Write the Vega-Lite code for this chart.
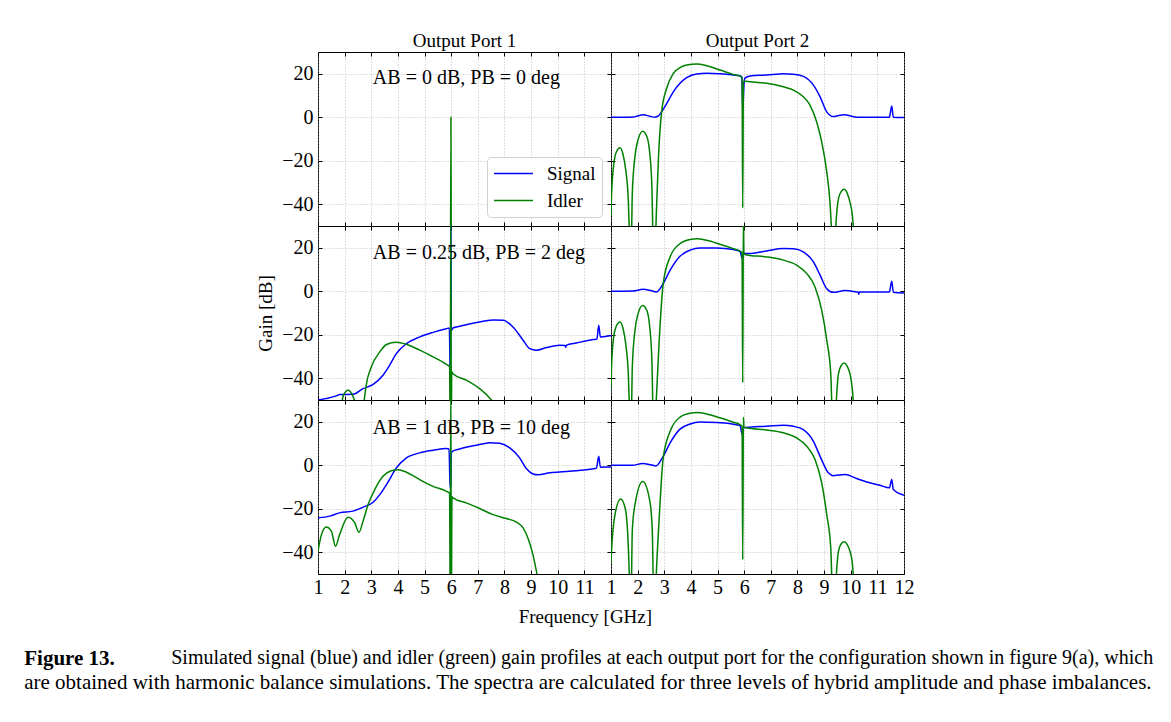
{
 "$schema": "https://vega.github.io/schema/vega-lite/v6.json",
 "padding": {"left": 24, "top": 31, "right": 10, "bottom": 10},
 "background": "white",
 "config": {
  "font": "Liberation Serif",
  "view": {"stroke": "#000", "strokeWidth": 1},
  "line": {"interpolate": "monotone", "strokeWidth": 1.5},
  "axis": {"domain": false, "ticks": true, "tickSize": -4, "tickColor": "#000", "tickWidth": 1, "gridColor": "#b0b0b0", "gridDash": [1, 2], "gridWidth": 0.8, "labelFont": "Liberation Serif", "labelFontSize": 20, "labelColor": "#000", "labelFlush": false, "labelOverlap": false, "titleFont": "Liberation Serif", "titleFontSize": 19, "titleFontWeight": "normal", "titleColor": "#000"},
  "title": {"font": "Liberation Serif", "fontSize": 19, "fontWeight": "normal", "color": "#000"}
 },
 "datasets": {
  "r1p1": [
   {"series": "Idler", "f": 5.975, "g": -70}, {"series": "Idler", "f": 5.99, "g": 0}, {"series": "Idler", "f": 6.005, "g": -70}
  ],
  "r1p2": [
   {"series": "Signal", "f": 1, "g": 0}, {"series": "Signal", "f": 1.5, "g": 0}, {"series": "Signal", "f": 1.84, "g": 0.1}, {"series": "Signal", "f": 2.0, "g": 0.6}, {"series": "Signal", "f": 2.21, "g": 1.1}, {"series": "Signal", "f": 2.45, "g": 0.5}, {"series": "Signal", "f": 2.65, "g": 0}, {"series": "Signal", "f": 2.78, "g": 0.6}, {"series": "Signal", "f": 2.9, "g": 2.5}, {"series": "Signal", "f": 3.09, "g": 6.3}, {"series": "Signal", "f": 3.34, "g": 11.7}, {"series": "Signal", "f": 3.59, "g": 15.6}, {"series": "Signal", "f": 3.84, "g": 18.2}, {"series": "Signal", "f": 4.22, "g": 19.9}, {"series": "Signal", "f": 4.59, "g": 20.2}, {"series": "Signal", "f": 5.09, "g": 20}, {"series": "Signal", "f": 5.59, "g": 19.4}, {"series": "Signal", "f": 5.84, "g": 19.1}, {"series": "Signal", "f": 5.91, "g": 18.6}, {"series": "Signal", "f": 5.95, "g": 3.3}, {"series": "Signal", "f": 5.98, "g": 12}, {"series": "Signal", "f": 6.02, "g": 17.9}, {"series": "Signal", "f": 6.22, "g": 19}, {"series": "Signal", "f": 6.84, "g": 19.4}, {"series": "Signal", "f": 7.47, "g": 20}, {"series": "Signal", "f": 7.85, "g": 19.8}, {"series": "Signal", "f": 8.22, "g": 18.8}, {"series": "Signal", "f": 8.6, "g": 14.8}, {"series": "Signal", "f": 8.85, "g": 9.4}, {"series": "Signal", "f": 9.1, "g": 2.5}, {"series": "Signal", "f": 9.35, "g": 0.3}, {"series": "Signal", "f": 9.55, "g": 0.8}, {"series": "Signal", "f": 9.79, "g": 1.1}, {"series": "Signal", "f": 10.0, "g": 0.6}, {"series": "Signal", "f": 10.22, "g": 0}, {"series": "Signal", "f": 11.45, "g": 0}, {"series": "Signal", "f": 11.54, "g": 5.2}, {"series": "Signal", "f": 11.6, "g": 0}, {"series": "Signal", "f": 12, "g": -0.1},
   {"series": "Idler", "f": 1, "g": -45}, {"series": "Idler", "f": 1.02, "g": -36}, {"series": "Idler", "f": 1.1, "g": -22}, {"series": "Idler", "f": 1.2, "g": -16}, {"series": "Idler", "f": 1.34, "g": -14}, {"series": "Idler", "f": 1.45, "g": -17}, {"series": "Idler", "f": 1.55, "g": -24}, {"series": "Idler", "f": 1.65, "g": -38}, {"series": "Idler", "f": 1.71, "g": -60}, {"series": "Idler", "f": 1.74, "g": -75}, {"series": "Idler", "f": 1.8, "g": -35}, {"series": "Idler", "f": 1.9, "g": -18}, {"series": "Idler", "f": 2.0, "g": -11}, {"series": "Idler", "f": 2.19, "g": -6.4}, {"series": "Idler", "f": 2.35, "g": -9}, {"series": "Idler", "f": 2.45, "g": -16}, {"series": "Idler", "f": 2.53, "g": -30}, {"series": "Idler", "f": 2.62, "g": -75}, {"series": "Idler", "f": 2.7, "g": -45}, {"series": "Idler", "f": 2.78, "g": -19}, {"series": "Idler", "f": 2.9, "g": 2.5}, {"series": "Idler", "f": 3.09, "g": 13.3}, {"series": "Idler", "f": 3.34, "g": 20.2}, {"series": "Idler", "f": 3.59, "g": 22.8}, {"series": "Idler", "f": 3.84, "g": 24}, {"series": "Idler", "f": 4.22, "g": 24.5}, {"series": "Idler", "f": 4.59, "g": 23.7}, {"series": "Idler", "f": 5.09, "g": 21.7}, {"series": "Idler", "f": 5.59, "g": 19.7}, {"series": "Idler", "f": 5.84, "g": 18.9}, {"series": "Idler", "f": 5.92, "g": 18.2}, {"series": "Idler", "f": 5.945, "g": -41.7}, {"series": "Idler", "f": 5.97, "g": 16.6}, {"series": "Idler", "f": 6.04, "g": 16.6}, {"series": "Idler", "f": 6.22, "g": 16.3}, {"series": "Idler", "f": 6.84, "g": 15.6}, {"series": "Idler", "f": 7.47, "g": 14}, {"series": "Idler", "f": 7.85, "g": 12.5}, {"series": "Idler", "f": 8.22, "g": 9.4}, {"series": "Idler", "f": 8.47, "g": 5.6}, {"series": "Idler", "f": 8.72, "g": -2.1}, {"series": "Idler", "f": 8.91, "g": -11.3}, {"series": "Idler", "f": 9.1, "g": -25.1}, {"series": "Idler", "f": 9.22, "g": -39}, {"series": "Idler", "f": 9.31, "g": -60}, {"series": "Idler", "f": 9.36, "g": -75}, {"series": "Idler", "f": 9.42, "g": -55}, {"series": "Idler", "f": 9.54, "g": -37.4}, {"series": "Idler", "f": 9.65, "g": -34}, {"series": "Idler", "f": 9.76, "g": -33.1}, {"series": "Idler", "f": 9.87, "g": -35}, {"series": "Idler", "f": 9.97, "g": -39}, {"series": "Idler", "f": 10.06, "g": -45}, {"series": "Idler", "f": 10.12, "g": -55}, {"series": "Idler", "f": 10.2, "g": -75}
  ],
  "r2p1": [
   {"series": "Signal", "f": 1, "g": -50}, {"series": "Signal", "f": 1.31, "g": -49.3}, {"series": "Signal", "f": 1.69, "g": -48.1}, {"series": "Signal", "f": 1.81, "g": -47.5}, {"series": "Signal", "f": 2.31, "g": -47.4}, {"series": "Signal", "f": 2.69, "g": -44.8}, {"series": "Signal", "f": 3.07, "g": -42.8}, {"series": "Signal", "f": 3.44, "g": -38.6}, {"series": "Signal", "f": 3.69, "g": -34}, {"series": "Signal", "f": 3.94, "g": -28.7}, {"series": "Signal", "f": 4.32, "g": -24.1}, {"series": "Signal", "f": 4.82, "g": -21}, {"series": "Signal", "f": 5.32, "g": -18.9}, {"series": "Signal", "f": 5.82, "g": -17.2}, {"series": "Signal", "f": 5.93, "g": -16.9}, {"series": "Signal", "f": 5.96, "g": -36}, {"series": "Signal", "f": 5.98, "g": -40}, {"series": "Signal", "f": 5.99, "g": 35}, {"series": "Signal", "f": 6.005, "g": -18}, {"series": "Signal", "f": 6.07, "g": -16.9}, {"series": "Signal", "f": 6.32, "g": -16.1}, {"series": "Signal", "f": 6.95, "g": -14.4}, {"series": "Signal", "f": 7.57, "g": -13.2}, {"series": "Signal", "f": 7.95, "g": -13.3}, {"series": "Signal", "f": 8.32, "g": -16.4}, {"series": "Signal", "f": 8.7, "g": -22.5}, {"series": "Signal", "f": 8.95, "g": -26.4}, {"series": "Signal", "f": 9.2, "g": -27.1}, {"series": "Signal", "f": 9.57, "g": -25.9}, {"series": "Signal", "f": 10.07, "g": -24.8}, {"series": "Signal", "f": 10.28, "g": -24.9}, {"series": "Signal", "f": 10.3, "g": -25.8}, {"series": "Signal", "f": 10.32, "g": -24.9}, {"series": "Signal", "f": 10.7, "g": -23.8}, {"series": "Signal", "f": 11.33, "g": -22.2}, {"series": "Signal", "f": 11.47, "g": -22}, {"series": "Signal", "f": 11.54, "g": -15.6}, {"series": "Signal", "f": 11.6, "g": -21}, {"series": "Signal", "f": 11.95, "g": -20.5}, {"series": "Signal", "f": 12, "g": -20.4},
   {"series": "Idler", "f": 1.85, "g": -55}, {"series": "Idler", "f": 1.95, "g": -48}, {"series": "Idler", "f": 2.13, "g": -45.5}, {"series": "Idler", "f": 2.3, "g": -48}, {"series": "Idler", "f": 2.44, "g": -55}, {"series": "Idler", "f": 2.55, "g": -75}, {"series": "Idler", "f": 2.69, "g": -55}, {"series": "Idler", "f": 2.82, "g": -42.5}, {"series": "Idler", "f": 3.0, "g": -34.8}, {"series": "Idler", "f": 3.32, "g": -27.9}, {"series": "Idler", "f": 3.57, "g": -24.5}, {"series": "Idler", "f": 3.94, "g": -23.4}, {"series": "Idler", "f": 4.32, "g": -24.4}, {"series": "Idler", "f": 4.82, "g": -27.1}, {"series": "Idler", "f": 5.32, "g": -30.2}, {"series": "Idler", "f": 5.82, "g": -33.6}, {"series": "Idler", "f": 5.94, "g": -34.8}, {"series": "Idler", "f": 5.965, "g": -70}, {"series": "Idler", "f": 5.985, "g": 40}, {"series": "Idler", "f": 6.005, "g": -70}, {"series": "Idler", "f": 6.02, "g": -37}, {"series": "Idler", "f": 6.07, "g": -37.9}, {"series": "Idler", "f": 6.57, "g": -40.9}, {"series": "Idler", "f": 7.07, "g": -44.8}, {"series": "Idler", "f": 7.51, "g": -50}, {"series": "Idler", "f": 7.8, "g": -55}
  ],
  "r2p2": [
   {"series": "Signal", "f": 1, "g": 0}, {"series": "Signal", "f": 1.8, "g": 0.1}, {"series": "Signal", "f": 2.21, "g": 0.9}, {"series": "Signal", "f": 2.5, "g": 0.3}, {"series": "Signal", "f": 2.71, "g": -0.3}, {"series": "Signal", "f": 2.96, "g": 3.5}, {"series": "Signal", "f": 3.22, "g": 9.7}, {"series": "Signal", "f": 3.59, "g": 16.1}, {"series": "Signal", "f": 3.97, "g": 18.9}, {"series": "Signal", "f": 4.34, "g": 19.9}, {"series": "Signal", "f": 4.97, "g": 19.9}, {"series": "Signal", "f": 5.59, "g": 19.2}, {"series": "Signal", "f": 5.84, "g": 18.4}, {"series": "Signal", "f": 5.93, "g": 15}, {"series": "Signal", "f": 5.97, "g": 17.5}, {"series": "Signal", "f": 6.16, "g": 17.3}, {"series": "Signal", "f": 6.84, "g": 18.5}, {"series": "Signal", "f": 7.47, "g": 19.6}, {"series": "Signal", "f": 7.85, "g": 19.5}, {"series": "Signal", "f": 8.22, "g": 18.1}, {"series": "Signal", "f": 8.6, "g": 13.5}, {"series": "Signal", "f": 8.85, "g": 7.4}, {"series": "Signal", "f": 9.1, "g": 1.2}, {"series": "Signal", "f": 9.35, "g": -0.5}, {"series": "Signal", "f": 9.79, "g": 0.3}, {"series": "Signal", "f": 10.22, "g": -0.3}, {"series": "Signal", "f": 10.28, "g": -0.4}, {"series": "Signal", "f": 10.3, "g": -1.4}, {"series": "Signal", "f": 10.32, "g": -0.3}, {"series": "Signal", "f": 11.45, "g": -0.3}, {"series": "Signal", "f": 11.54, "g": 4.6}, {"series": "Signal", "f": 11.6, "g": -0.5}, {"series": "Signal", "f": 12, "g": -0.8},
   {"series": "Idler", "f": 1, "g": -45}, {"series": "Idler", "f": 1.02, "g": -34.8}, {"series": "Idler", "f": 1.1, "g": -21}, {"series": "Idler", "f": 1.2, "g": -16}, {"series": "Idler", "f": 1.34, "g": -14.1}, {"series": "Idler", "f": 1.45, "g": -17}, {"series": "Idler", "f": 1.55, "g": -24}, {"series": "Idler", "f": 1.65, "g": -38}, {"series": "Idler", "f": 1.71, "g": -60}, {"series": "Idler", "f": 1.74, "g": -75}, {"series": "Idler", "f": 1.8, "g": -35}, {"series": "Idler", "f": 1.9, "g": -18}, {"series": "Idler", "f": 2.0, "g": -11}, {"series": "Idler", "f": 2.19, "g": -6.6}, {"series": "Idler", "f": 2.35, "g": -9}, {"series": "Idler", "f": 2.45, "g": -16}, {"series": "Idler", "f": 2.53, "g": -30}, {"series": "Idler", "f": 2.62, "g": -75}, {"series": "Idler", "f": 2.7, "g": -50}, {"series": "Idler", "f": 2.81, "g": -22.5}, {"series": "Idler", "f": 2.96, "g": 3.5}, {"series": "Idler", "f": 3.22, "g": 15.8}, {"series": "Idler", "f": 3.59, "g": 21.9}, {"series": "Idler", "f": 3.97, "g": 23.8}, {"series": "Idler", "f": 4.22, "g": 24.1}, {"series": "Idler", "f": 4.59, "g": 23.4}, {"series": "Idler", "f": 5.09, "g": 21.6}, {"series": "Idler", "f": 5.59, "g": 19.6}, {"series": "Idler", "f": 5.84, "g": 18.5}, {"series": "Idler", "f": 5.92, "g": 17.8}, {"series": "Idler", "f": 5.945, "g": -42}, {"series": "Idler", "f": 5.97, "g": 35}, {"series": "Idler", "f": 5.99, "g": 17.2}, {"series": "Idler", "f": 6.09, "g": 16.7}, {"series": "Idler", "f": 6.84, "g": 15.8}, {"series": "Idler", "f": 7.47, "g": 14.3}, {"series": "Idler", "f": 7.97, "g": 12}, {"series": "Idler", "f": 8.35, "g": 8.1}, {"series": "Idler", "f": 8.66, "g": 2}, {"series": "Idler", "f": 8.91, "g": -8.7}, {"series": "Idler", "f": 9.1, "g": -22.5}, {"series": "Idler", "f": 9.25, "g": -37.9}, {"series": "Idler", "f": 9.31, "g": -60}, {"series": "Idler", "f": 9.37, "g": -75}, {"series": "Idler", "f": 9.44, "g": -55}, {"series": "Idler", "f": 9.54, "g": -37.9}, {"series": "Idler", "f": 9.65, "g": -34}, {"series": "Idler", "f": 9.76, "g": -33}, {"series": "Idler", "f": 9.87, "g": -34.5}, {"series": "Idler", "f": 9.97, "g": -37.9}, {"series": "Idler", "f": 10.06, "g": -45}, {"series": "Idler", "f": 10.12, "g": -55}, {"series": "Idler", "f": 10.2, "g": -75}
  ],
  "r3p1": [
   {"series": "Signal", "f": 1, "g": -24.2}, {"series": "Signal", "f": 1.44, "g": -23.4}, {"series": "Signal", "f": 1.81, "g": -21.9}, {"series": "Signal", "f": 2.31, "g": -21.1}, {"series": "Signal", "f": 2.69, "g": -19.3}, {"series": "Signal", "f": 3.07, "g": -17}, {"series": "Signal", "f": 3.32, "g": -13.5}, {"series": "Signal", "f": 3.63, "g": -7.7}, {"series": "Signal", "f": 3.94, "g": -1.2}, {"series": "Signal", "f": 4.32, "g": 3.4}, {"series": "Signal", "f": 4.82, "g": 5.7}, {"series": "Signal", "f": 5.32, "g": 6.9}, {"series": "Signal", "f": 5.82, "g": 7.7}, {"series": "Signal", "f": 5.92, "g": 7.5}, {"series": "Signal", "f": 5.96, "g": -10.4}, {"series": "Signal", "f": 5.98, "g": -10}, {"series": "Signal", "f": 6.0, "g": 5}, {"series": "Signal", "f": 6.04, "g": 6.4}, {"series": "Signal", "f": 6.32, "g": 7.5}, {"series": "Signal", "f": 6.95, "g": 9.2}, {"series": "Signal", "f": 7.45, "g": 10.4}, {"series": "Signal", "f": 7.82, "g": 10.1}, {"series": "Signal", "f": 8.2, "g": 8}, {"series": "Signal", "f": 8.57, "g": 3.4}, {"series": "Signal", "f": 8.82, "g": -1.5}, {"series": "Signal", "f": 9.07, "g": -4}, {"series": "Signal", "f": 9.26, "g": -4.4}, {"series": "Signal", "f": 9.7, "g": -3.5}, {"series": "Signal", "f": 10.07, "g": -3.1}, {"series": "Signal", "f": 10.7, "g": -2.5}, {"series": "Signal", "f": 11.45, "g": -1.4}, {"series": "Signal", "f": 11.54, "g": 4.1}, {"series": "Signal", "f": 11.6, "g": -0.9}, {"series": "Signal", "f": 11.95, "g": -0.8}, {"series": "Signal", "f": 12, "g": -0.8},
   {"series": "Idler", "f": 1, "g": -39.5}, {"series": "Idler", "f": 1.13, "g": -31.9}, {"series": "Idler", "f": 1.31, "g": -28.4}, {"series": "Idler", "f": 1.5, "g": -30.3}, {"series": "Idler", "f": 1.66, "g": -37.2}, {"series": "Idler", "f": 1.81, "g": -31.9}, {"series": "Idler", "f": 2.13, "g": -23.9}, {"series": "Idler", "f": 2.38, "g": -26.5}, {"series": "Idler", "f": 2.54, "g": -30.8}, {"series": "Idler", "f": 2.69, "g": -25.7}, {"series": "Idler", "f": 2.88, "g": -18.1}, {"series": "Idler", "f": 3.13, "g": -11.2}, {"series": "Idler", "f": 3.44, "g": -5.1}, {"series": "Idler", "f": 3.75, "g": -2.5}, {"series": "Idler", "f": 4.0, "g": -2.1}, {"series": "Idler", "f": 4.32, "g": -3.2}, {"series": "Idler", "f": 4.82, "g": -6.6}, {"series": "Idler", "f": 5.32, "g": -9.7}, {"series": "Idler", "f": 5.82, "g": -12}, {"series": "Idler", "f": 5.94, "g": -12.9}, {"series": "Idler", "f": 5.965, "g": -70}, {"series": "Idler", "f": 5.985, "g": 40}, {"series": "Idler", "f": 6.005, "g": -70}, {"series": "Idler", "f": 6.03, "g": -14.5}, {"series": "Idler", "f": 6.07, "g": -15}, {"series": "Idler", "f": 6.57, "g": -17.3}, {"series": "Idler", "f": 7.07, "g": -19.9}, {"series": "Idler", "f": 7.57, "g": -22.7}, {"series": "Idler", "f": 8.07, "g": -24.5}, {"series": "Idler", "f": 8.45, "g": -26.1}, {"series": "Idler", "f": 8.7, "g": -28.8}, {"series": "Idler", "f": 8.88, "g": -33.4}, {"series": "Idler", "f": 9.07, "g": -41.1}, {"series": "Idler", "f": 9.2, "g": -48.7}, {"series": "Idler", "f": 9.3, "g": -55}
  ],
  "r3p2": [
   {"series": "Signal", "f": 1, "g": 0}, {"series": "Signal", "f": 1.8, "g": 0}, {"series": "Signal", "f": 2.19, "g": 0.8}, {"series": "Signal", "f": 2.5, "g": 0.2}, {"series": "Signal", "f": 2.69, "g": -0.3}, {"series": "Signal", "f": 2.96, "g": 4.1}, {"series": "Signal", "f": 3.22, "g": 10.3}, {"series": "Signal", "f": 3.59, "g": 16.6}, {"series": "Signal", "f": 3.97, "g": 19}, {"series": "Signal", "f": 4.34, "g": 19.9}, {"series": "Signal", "f": 4.97, "g": 19.6}, {"series": "Signal", "f": 5.59, "g": 18.9}, {"series": "Signal", "f": 5.84, "g": 18.2}, {"series": "Signal", "f": 5.93, "g": 14.1}, {"series": "Signal", "f": 5.97, "g": 17.2}, {"series": "Signal", "f": 6.22, "g": 17.5}, {"series": "Signal", "f": 6.84, "g": 17.9}, {"series": "Signal", "f": 7.47, "g": 18.4}, {"series": "Signal", "f": 7.85, "g": 17.9}, {"series": "Signal", "f": 8.22, "g": 16.4}, {"series": "Signal", "f": 8.6, "g": 11}, {"series": "Signal", "f": 8.85, "g": 4.1}, {"series": "Signal", "f": 9.16, "g": -3.5}, {"series": "Signal", "f": 9.35, "g": -4.8}, {"series": "Signal", "f": 9.55, "g": -4.5}, {"series": "Signal", "f": 9.79, "g": -4.3}, {"series": "Signal", "f": 10.22, "g": -6.1}, {"series": "Signal", "f": 10.6, "g": -7.7}, {"series": "Signal", "f": 11.1, "g": -9.2}, {"series": "Signal", "f": 11.45, "g": -10.4}, {"series": "Signal", "f": 11.54, "g": -6.6}, {"series": "Signal", "f": 11.6, "g": -11.2}, {"series": "Signal", "f": 12, "g": -13.8},
   {"series": "Idler", "f": 1, "g": -45}, {"series": "Idler", "f": 1.02, "g": -39.5}, {"series": "Idler", "f": 1.15, "g": -22.7}, {"series": "Idler", "f": 1.36, "g": -15.5}, {"series": "Idler", "f": 1.53, "g": -19.6}, {"series": "Idler", "f": 1.63, "g": -32}, {"series": "Idler", "f": 1.71, "g": -60}, {"series": "Idler", "f": 1.74, "g": -75}, {"series": "Idler", "f": 1.8, "g": -30}, {"series": "Idler", "f": 1.9, "g": -18.1}, {"series": "Idler", "f": 2.19, "g": -7.5}, {"series": "Idler", "f": 2.46, "g": -16.6}, {"series": "Idler", "f": 2.55, "g": -30}, {"series": "Idler", "f": 2.62, "g": -75}, {"series": "Idler", "f": 2.7, "g": -50}, {"series": "Idler", "f": 2.81, "g": -24.2}, {"series": "Idler", "f": 2.96, "g": 3.4}, {"series": "Idler", "f": 3.22, "g": 15.6}, {"series": "Idler", "f": 3.59, "g": 22.1}, {"series": "Idler", "f": 3.97, "g": 23.9}, {"series": "Idler", "f": 4.22, "g": 24.2}, {"series": "Idler", "f": 4.59, "g": 23.6}, {"series": "Idler", "f": 5.09, "g": 21.8}, {"series": "Idler", "f": 5.59, "g": 19.8}, {"series": "Idler", "f": 5.84, "g": 18.7}, {"series": "Idler", "f": 5.92, "g": 17.9}, {"series": "Idler", "f": 5.945, "g": -43.4}, {"series": "Idler", "f": 5.97, "g": 22.1}, {"series": "Idler", "f": 5.99, "g": 17.5}, {"series": "Idler", "f": 6.09, "g": 17.2}, {"series": "Idler", "f": 6.84, "g": 16.2}, {"series": "Idler", "f": 7.47, "g": 14.9}, {"series": "Idler", "f": 7.97, "g": 12.6}, {"series": "Idler", "f": 8.35, "g": 8.7}, {"series": "Idler", "f": 8.66, "g": 2.6}, {"series": "Idler", "f": 8.91, "g": -8.1}, {"series": "Idler", "f": 9.1, "g": -22.7}, {"series": "Idler", "f": 9.25, "g": -38}, {"series": "Idler", "f": 9.31, "g": -60}, {"series": "Idler", "f": 9.37, "g": -75}, {"series": "Idler", "f": 9.44, "g": -55}, {"series": "Idler", "f": 9.54, "g": -39.5}, {"series": "Idler", "f": 9.65, "g": -36}, {"series": "Idler", "f": 9.76, "g": -35.2}, {"series": "Idler", "f": 9.87, "g": -36.5}, {"series": "Idler", "f": 9.97, "g": -39.5}, {"series": "Idler", "f": 10.06, "g": -45}, {"series": "Idler", "f": 10.12, "g": -55}, {"series": "Idler", "f": 10.2, "g": -75}
  ]
 },
 "title": {"text": "are obtained with harmonic balance simulations. The spectra are calculated for three levels of hybrid amplitude and phase imbalances.", "orient": "bottom", "anchor": "start", "frame": "bounds", "offset": 3, "fontSize": 21},
 "vconcat": [
  {
   "title": {"text": "Simulated signal (blue) and idler (green) gain profiles at each output port for the configuration shown in figure 9(a), which", "orient": "bottom", "anchor": "start", "frame": "bounds", "offset": 0, "dx": 147, "dy": -21, "fontSize": 20},
   "vconcat": [
    {
     "title": {"text": "Figure 13.", "orient": "bottom", "anchor": "start", "frame": "bounds", "offset": 21, "dx": -232, "fontSize": 21, "fontWeight": "bold"},
     "vconcat": [
      {
       "title": {"text": "Frequency [GHz]", "orient": "bottom", "anchor": "middle", "frame": "bounds", "offset": 10, "fontSize": 19},
       "columns": 2,
       "spacing": 0,
       "bounds": "flush",
       "concat": [
          {
           "width": 293, "height": 174,
           "title": {"text": "Output Port 1", "frame": "group", "anchor": "middle", "offset": 1},
           "data": {"name": "r1p1"},
           "layer": [
            {"transform": [{"filter": "datum.series === 'Signal'"}], "mark": {"type": "line", "clip": true},
             "encoding": {
              "x": {"field": "f", "type": "quantitative", "scale": {"domain": [1, 12], "nice": false}, "axis": {"orient": "bottom", "values": [1,2,3,4,5,6,7,8,9,10,11,12], "title": null, "grid": true, "labels": false}},
              "y": {"field": "g", "type": "quantitative", "scale": {"domain": [-50, 30], "nice": false, "zero": false}, "axis": {"orient": "left", "values": [-40,-20,0,20], "title": null, "grid": true, "labels": true, "labelPadding": 9}},
              "color": {"datum": "Signal", "type": "nominal", "scale": {"domain": ["Signal", "Idler"], "range": ["#0000ff", "#008000"]},
               "legend": {"orient": "none", "legendX": 169, "legendY": 105, "title": null, "symbolType": "M-2,0H2", "symbolStrokeWidth": 1.5, "symbolSize": 380, "symbolOffset": 10, "labelFont": "Liberation Serif", "labelFontSize": 19, "labelColor": "#000", "labelOffset": 23, "strokeColor": "#d0d0d0", "fillColor": "#ffffff", "cornerRadius": 4, "padding": 6, "rowPadding": 6}}
             }},
            {"transform": [{"filter": "datum.series === 'Idler'"}], "mark": {"type": "line", "clip": true},
             "encoding": {
              "x": {"field": "f", "type": "quantitative", "axis": {"orient": "top", "values": [1,2,3,4,5,6,7,8,9,10,11,12], "title": null, "grid": false, "labels": false}},
              "y": {"field": "g", "type": "quantitative", "axis": {"orient": "right", "values": [-40,-20,0,20], "title": null, "grid": false, "labels": false}},
              "color": {"datum": "Idler", "type": "nominal"}
             }},
            {"data": {"values": [{"f": 3.06, "g": 18, "t": "AB = 0 dB, PB = 0 deg"}]}, "mark": {"type": "text", "align": "left", "baseline": "middle", "fontSize": 20, "font": "Liberation Serif", "color": "#000"},
             "encoding": {"x": {"field": "f", "type": "quantitative", "axis": null}, "y": {"field": "g", "type": "quantitative", "axis": null}, "text": {"field": "t"}}}
           ],
           "resolve": {"axis": {"x": "independent", "y": "independent"}}
          },
          {
           "width": 293, "height": 174,
           "title": {"text": "Output Port 2", "frame": "group", "anchor": "middle", "offset": 1},
           "data": {"name": "r1p2"},
           "layer": [
            {"transform": [{"filter": "datum.series === 'Signal'"}], "mark": {"type": "line", "clip": true},
             "encoding": {
              "x": {"field": "f", "type": "quantitative", "scale": {"domain": [1, 12], "nice": false}, "axis": {"orient": "bottom", "values": [1,2,3,4,5,6,7,8,9,10,11,12], "title": null, "grid": true, "labels": false}},
              "y": {"field": "g", "type": "quantitative", "scale": {"domain": [-50, 30], "nice": false, "zero": false}, "axis": {"orient": "left", "values": [-40,-20,0,20], "title": null, "grid": true, "labels": false}},
              "color": {"datum": "Signal", "type": "nominal"}
             }},
            {"transform": [{"filter": "datum.series === 'Idler'"}], "mark": {"type": "line", "clip": true},
             "encoding": {
              "x": {"field": "f", "type": "quantitative", "axis": {"orient": "top", "values": [1,2,3,4,5,6,7,8,9,10,11,12], "title": null, "grid": false, "labels": false}},
              "y": {"field": "g", "type": "quantitative", "axis": {"orient": "right", "values": [-40,-20,0,20], "title": null, "grid": false, "labels": false}},
              "color": {"datum": "Idler", "type": "nominal"}
             }}
           ],
           "resolve": {"axis": {"x": "independent", "y": "independent"}}
          },
          {
           "width": 293, "height": 174,
           "data": {"name": "r2p1"},
           "layer": [
            {"transform": [{"filter": "datum.series === 'Signal'"}], "mark": {"type": "line", "clip": true},
             "encoding": {
              "x": {"field": "f", "type": "quantitative", "scale": {"domain": [1, 12], "nice": false}, "axis": {"orient": "bottom", "values": [1,2,3,4,5,6,7,8,9,10,11,12], "title": null, "grid": true, "labels": false}},
              "y": {"field": "g", "type": "quantitative", "scale": {"domain": [-50, 30], "nice": false, "zero": false}, "axis": {"orient": "left", "values": [-40,-20,0,20], "title": "Gain [dB]", "titlePadding": 6, "grid": true, "labels": true, "labelPadding": 9}},
              "color": {"datum": "Signal", "type": "nominal"}
             }},
            {"transform": [{"filter": "datum.series === 'Idler'"}], "mark": {"type": "line", "clip": true},
             "encoding": {
              "x": {"field": "f", "type": "quantitative", "axis": {"orient": "top", "values": [1,2,3,4,5,6,7,8,9,10,11,12], "title": null, "grid": false, "labels": false}},
              "y": {"field": "g", "type": "quantitative", "axis": {"orient": "right", "values": [-40,-20,0,20], "title": null, "grid": false, "labels": false}},
              "color": {"datum": "Idler", "type": "nominal"}
             }},
            {"data": {"values": [{"f": 3.06, "g": 17.4, "t": "AB = 0.25 dB, PB = 2 deg"}]}, "mark": {"type": "text", "align": "left", "baseline": "middle", "fontSize": 20, "font": "Liberation Serif", "color": "#000"},
             "encoding": {"x": {"field": "f", "type": "quantitative", "axis": null}, "y": {"field": "g", "type": "quantitative", "axis": null}, "text": {"field": "t"}}}
           ],
           "resolve": {"axis": {"x": "independent", "y": "independent"}}
          },
          {
           "width": 293, "height": 174,
           "data": {"name": "r2p2"},
           "layer": [
            {"transform": [{"filter": "datum.series === 'Signal'"}], "mark": {"type": "line", "clip": true},
             "encoding": {
              "x": {"field": "f", "type": "quantitative", "scale": {"domain": [1, 12], "nice": false}, "axis": {"orient": "bottom", "values": [1,2,3,4,5,6,7,8,9,10,11,12], "title": null, "grid": true, "labels": false}},
              "y": {"field": "g", "type": "quantitative", "scale": {"domain": [-50, 30], "nice": false, "zero": false}, "axis": {"orient": "left", "values": [-40,-20,0,20], "title": null, "grid": true, "labels": false}},
              "color": {"datum": "Signal", "type": "nominal"}
             }},
            {"transform": [{"filter": "datum.series === 'Idler'"}], "mark": {"type": "line", "clip": true},
             "encoding": {
              "x": {"field": "f", "type": "quantitative", "axis": {"orient": "top", "values": [1,2,3,4,5,6,7,8,9,10,11,12], "title": null, "grid": false, "labels": false}},
              "y": {"field": "g", "type": "quantitative", "axis": {"orient": "right", "values": [-40,-20,0,20], "title": null, "grid": false, "labels": false}},
              "color": {"datum": "Idler", "type": "nominal"}
             }}
           ],
           "resolve": {"axis": {"x": "independent", "y": "independent"}}
          },
          {
           "width": 293, "height": 174,
           "data": {"name": "r3p1"},
           "layer": [
            {"transform": [{"filter": "datum.series === 'Signal'"}], "mark": {"type": "line", "clip": true},
             "encoding": {
              "x": {"field": "f", "type": "quantitative", "scale": {"domain": [1, 12], "nice": false}, "axis": {"orient": "bottom", "values": [1,2,3,4,5,6,7,8,9,10,11,12], "title": null, "grid": true, "labels": true, "labelPadding": 7, "labelExpr": "datum.value == 12 ? '' : datum.label"}},
              "y": {"field": "g", "type": "quantitative", "scale": {"domain": [-50, 30], "nice": false, "zero": false}, "axis": {"orient": "left", "values": [-40,-20,0,20], "title": null, "grid": true, "labels": true, "labelPadding": 9}},
              "color": {"datum": "Signal", "type": "nominal"}
             }},
            {"transform": [{"filter": "datum.series === 'Idler'"}], "mark": {"type": "line", "clip": true},
             "encoding": {
              "x": {"field": "f", "type": "quantitative", "axis": {"orient": "top", "values": [1,2,3,4,5,6,7,8,9,10,11,12], "title": null, "grid": false, "labels": false}},
              "y": {"field": "g", "type": "quantitative", "axis": {"orient": "right", "values": [-40,-20,0,20], "title": null, "grid": false, "labels": false}},
              "color": {"datum": "Idler", "type": "nominal"}
             }},
            {"data": {"values": [{"f": 3.06, "g": 17.3, "t": "AB = 1 dB, PB = 10 deg"}]}, "mark": {"type": "text", "align": "left", "baseline": "middle", "fontSize": 20, "font": "Liberation Serif", "color": "#000"},
             "encoding": {"x": {"field": "f", "type": "quantitative", "axis": null}, "y": {"field": "g", "type": "quantitative", "axis": null}, "text": {"field": "t"}}}
           ],
           "resolve": {"axis": {"x": "independent", "y": "independent"}}
          },
          {
           "width": 293, "height": 174,
           "data": {"name": "r3p2"},
           "layer": [
            {"transform": [{"filter": "datum.series === 'Signal'"}], "mark": {"type": "line", "clip": true},
             "encoding": {
              "x": {"field": "f", "type": "quantitative", "scale": {"domain": [1, 12], "nice": false}, "axis": {"orient": "bottom", "values": [1,2,3,4,5,6,7,8,9,10,11,12], "title": null, "grid": true, "labels": true, "labelPadding": 7}},
              "y": {"field": "g", "type": "quantitative", "scale": {"domain": [-50, 30], "nice": false, "zero": false}, "axis": {"orient": "left", "values": [-40,-20,0,20], "title": null, "grid": true, "labels": false}},
              "color": {"datum": "Signal", "type": "nominal"}
             }},
            {"transform": [{"filter": "datum.series === 'Idler'"}], "mark": {"type": "line", "clip": true},
             "encoding": {
              "x": {"field": "f", "type": "quantitative", "axis": {"orient": "top", "values": [1,2,3,4,5,6,7,8,9,10,11,12], "title": null, "grid": false, "labels": false}},
              "y": {"field": "g", "type": "quantitative", "axis": {"orient": "right", "values": [-40,-20,0,20], "title": null, "grid": false, "labels": false}},
              "color": {"datum": "Idler", "type": "nominal"}
             }}
           ],
           "resolve": {"axis": {"x": "independent", "y": "independent"}}
          }
       ]
      }
     ]
    }
   ]
  }
 ]
}
